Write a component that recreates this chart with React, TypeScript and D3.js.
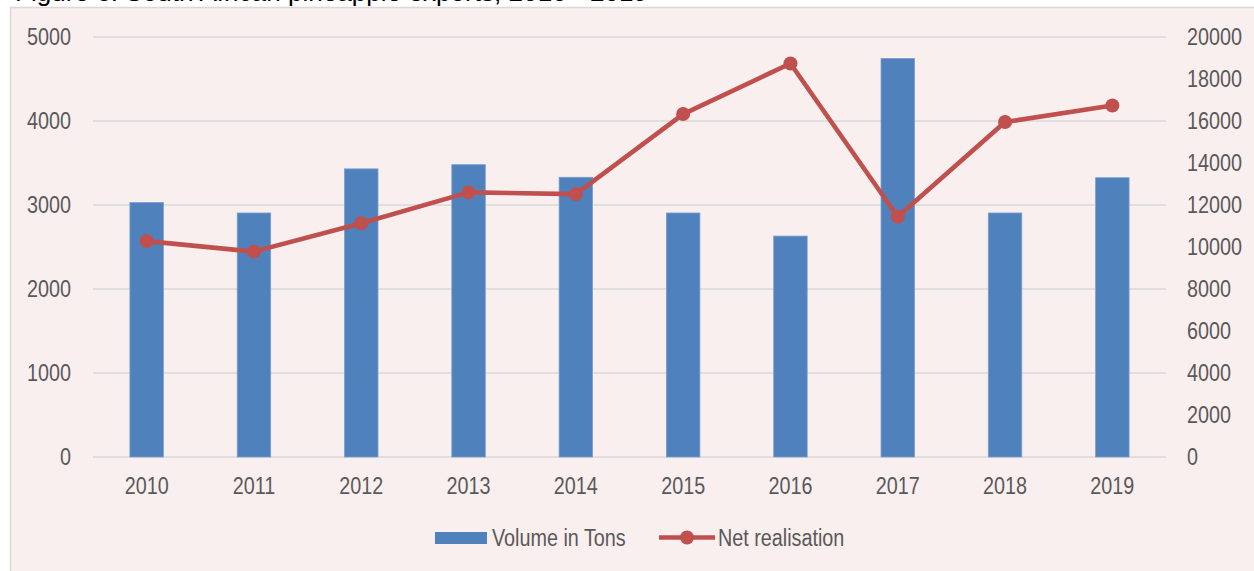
import React from "react";
import * as d3 from "d3";

const years = ["2010", "2011", "2012", "2013", "2014", "2015", "2016", "2017", "2018", "2019"];
const volumeTons = [3030, 2905, 3430, 3480, 3330, 2905, 2630, 4745, 2905, 3325];
const netRealisation = [10280, 9780, 11130, 12600, 12520, 16330, 18740, 11440, 15950, 16740];
const leftTicks = [0, 1000, 2000, 3000, 4000, 5000];
const rightTicks = [0, 2000, 4000, 6000, 8000, 10000, 12000, 14000, 16000, 18000, 20000];
const titleText = "Figure 6: South African pineapple exports, 2010 - 2019";
const legendLabels = ["Volume in Tons", "Net realisation"];

const W = 1254;
const H = 571;
const FONT = "'Liberation Sans', Arial, sans-serif";
const TEXT = "#595959";
const BLUE = "#4F81BD";
const RED = "#C0504D";
const GRID = "#D9D9D9";
const SX = 0.86;

function NText(props: { x: number; y: number; anchor?: string; children: React.ReactNode }) {
  return (
    <text
      transform={`translate(${props.x},${props.y}) scale(${SX},1)`}
      dy="0.35em"
      textAnchor={props.anchor || "start"}
      fontSize={23}
      fill={TEXT}
    >
      {props.children}
    </text>
  );
}

export default function App() {
  const x = d3.scaleBand<string>().domain(years).range([93, 1166]).padding(0);
  const yL = d3.scaleLinear().domain([0, 5000]).range([457, 37]);
  const yR = d3.scaleLinear().domain([0, 20000]).range([457, 37]);
  const bw = x.bandwidth() * 0.312;
  const cx = (yr: string) => (x(yr) as number) + x.bandwidth() / 2;

  const line = d3
    .line<number>()
    .x((_, i) => cx(years[i]))
    .y((v) => yR(v));

  return (
    <svg width={W} height={H} style={{ position: "absolute", left: 0, top: 0 }} fontFamily={FONT}>
      <rect x={0} y={0} width={W} height={H} fill="#ffffff" />
      <text x={15} y={0.5} fontSize={26} fill="#000" textLength={633} lengthAdjust="spacingAndGlyphs">
        {titleText}
      </text>
      <rect x={10.5} y={7.5} width={W + 20} height={H + 20} fill="#F9EFEF" stroke={GRID} strokeWidth={1.5} />

      {leftTicks.map((t) => (
        <line key={"g" + t} x1={93} x2={1166} y1={yL(t)} y2={yL(t)} stroke={GRID} strokeWidth={1.5} />
      ))}

      {years.map((yr, i) => (
        <rect
          key={"b" + yr}
          x={cx(yr) - bw / 2}
          y={yL(volumeTons[i])}
          width={bw}
          height={yL(0) - yL(volumeTons[i])}
          fill={BLUE}
          stroke="#7A9FD0"
          strokeWidth={0.8}
        />
      ))}

      <path d={line(netRealisation) as string} fill="none" stroke={RED} strokeWidth={4.6} strokeLinejoin="round" />
      {netRealisation.map((v, i) => (
        <circle key={"c" + i} cx={cx(years[i])} cy={yR(v)} r={7} fill={RED} />
      ))}

      {leftTicks.map((t) => (
        <NText key={"lt" + t} x={71} y={yL(t)} anchor="end">
          {t}
        </NText>
      ))}
      {rightTicks.map((t) => (
        <NText key={"rt" + t} x={1187} y={yR(t)}>
          {t}
        </NText>
      ))}
      {years.map((yr) => (
        <NText key={"x" + yr} x={cx(yr)} y={486} anchor="middle">
          {yr}
        </NText>
      ))}

      <rect x={435} y={532} width={52} height={12} fill={BLUE} />
      <NText x={492} y={538}>
        {legendLabels[0]}
      </NText>
      <line x1={659} x2={715} y1={537.5} y2={537.5} stroke={RED} strokeWidth={4.6} />
      <circle cx={687} cy={537.5} r={7} fill={RED} />
      <NText x={718} y={538}>
        {legendLabels[1]}
      </NText>
    </svg>
  );
}
